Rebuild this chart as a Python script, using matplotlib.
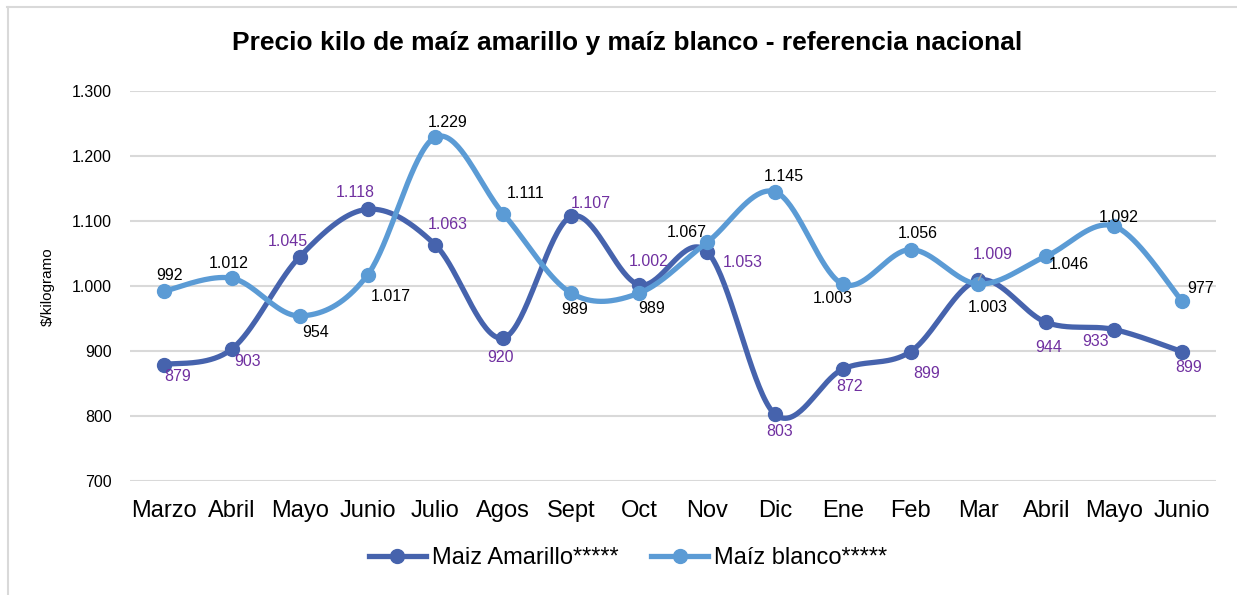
# Precio kilo de maíz amarillo y maíz blanco - referencia nacional
import numpy as np
import matplotlib.pyplot as plt
from matplotlib.lines import Line2D
from matplotlib.ticker import FuncFormatter

plt.rcParams['font.family'] = ['Liberation Sans', 'DejaVu Sans']

meses = ['Marzo', 'Abril', 'Mayo', 'Junio', 'Julio', 'Agos', 'Sept', 'Oct',
         'Nov', 'Dic', 'Ene', 'Feb', 'Mar', 'Abril', 'Mayo', 'Junio']
amarillo = [879, 903, 1045, 1118, 1063, 920, 1107, 1002,
            1053, 803, 872, 899, 1009, 944, 933, 899]
blanco = [992, 1012, 954, 1017, 1229, 1111, 989, 989,
          1067, 1145, 1003, 1056, 1003, 1046, 1092, 977]

# label offsets in pixels (dx, dy), hand placed like the Excel chart
off_amarillo = [(14, -12), (16, -12), (-12, 15), (-12, 17), (12, 21), (-3, -19),
                (20, 13), (10, 23), (36, -11), (5, -17), (7, -17), (16, -22),
                (14, 26), (2, -25), (-19, -12), (7, -16)]
off_blanco = [(6, 16), (-3, 15), (16, -17), (23, -22), (12, 15), (22, 20),
              (3, -16), (13, -15), (-20, 10), (9, 15), (-10, -14), (7, 16),
              (9, -23), (23, -8), (4, 9), (18, 12)]

C_AMA = '#4663AD'
C_BLA = '#5B9BD5'
C_LAB = '#7030A0'
GRID = '#D9D9D9'


def fmt(v):
    return f'{v:,.0f}'.replace(',', '.')


def smooth(y, n=40):
    """Catmull-Rom style bezier smoothing (similar to Excel's smoothed line)"""
    x = np.arange(len(y), dtype=float)
    y = np.asarray(y, dtype=float)
    pts = np.column_stack([x, y])
    out = []
    for i in range(len(pts) - 1):
        p0 = pts[max(i - 1, 0)]
        p1 = pts[i]
        p2 = pts[i + 1]
        p3 = pts[min(i + 2, len(pts) - 1)]
        c1 = p1 + (p2 - p0) / 6
        c2 = p2 - (p3 - p1) / 6
        t = np.linspace(0, 1, n)[:, None]
        seg = ((1 - t) ** 3) * p1 + 3 * ((1 - t) ** 2) * t * c1 \
            + 3 * (1 - t) * t ** 2 * c2 + t ** 3 * p2
        out.append(seg if i == 0 else seg[1:])
    out = np.vstack(out)
    return out[:, 0], out[:, 1]


fig = plt.figure(figsize=(12.37, 5.95), dpi=100)
ax = fig.add_axes([130 / 1237, 1 - 481 / 595, 1086 / 1237, 390 / 595])

x = np.arange(len(meses))
for vals, col, z in [(amarillo, C_AMA, 3), (blanco, C_BLA, 4)]:
    sx, sy = smooth(vals)
    ax.plot(sx, sy, color=col, lw=3.8, zorder=z, solid_capstyle='round')
    ax.plot(x, vals, 'o', color=col, ms=10, zorder=z)

for i, v in enumerate(blanco):
    ax.annotate(fmt(v), (i, v), xytext=off_blanco[i], textcoords='offset pixels',
                ha='center', va='center', fontsize=11.5, color='black', zorder=6)
for i, v in enumerate(amarillo):
    if i == 12:
        # Mar label sits off the point, with a small leader line
        ax.annotate(fmt(v), (i, v), xytext=off_amarillo[i],
                    textcoords='offset pixels', ha='center', va='center',
                    fontsize=11.5, color=C_LAB, zorder=7,
                    arrowprops=dict(arrowstyle='-', color='#A6A6A6', lw=1,
                                    shrinkA=8, shrinkB=0))
    else:
        ax.annotate(fmt(v), (i, v), xytext=off_amarillo[i],
                    textcoords='offset pixels', ha='center', va='center',
                    fontsize=11.5, color=C_LAB, zorder=7)

ax.set_xlim(-0.5, len(meses) - 0.5)
ax.set_ylim(700, 1300)
ax.set_yticks(range(700, 1301, 100))
ax.yaxis.set_major_formatter(FuncFormatter(lambda v, p: fmt(v)))
ax.set_xticks(x)
ax.set_xticklabels(meses)
ax.tick_params(axis='x', length=0, labelsize=17, pad=14)
ax.tick_params(axis='y', length=0, labelsize=11.5, pad=13)
ax.grid(axis='y', color=GRID, lw=1.5)
ax.set_axisbelow(True)
for s in ax.spines.values():
    s.set_visible(False)

fig.text(48 / 1237, 1 - 287 / 595, '$/kilogramo', rotation=90,
         ha='center', va='center', fontsize=11)
fig.text(627 / 1237, 1 - 43 / 595,
         'Precio kilo de maíz amarillo y maíz blanco - referencia nacional',
         ha='center', va='center', fontsize=19, fontweight='bold')

handles = [Line2D([], [], color=C_AMA, lw=3.8, marker='o', ms=10),
           Line2D([], [], color=C_BLA, lw=3.8, marker='o', ms=10)]
fig.legend(handles, ['Maiz Amarillo*****', 'Maíz blanco*****'],
           loc='center', bbox_to_anchor=(628 / 1237, 1 - 558 / 595), ncol=2,
           frameon=False, fontsize=17, numpoints=1, handlelength=2.4,
           handletextpad=0.25, columnspacing=1.4)

# light grey chart border (top and left visible in the crop)
fig.add_artist(Line2D([7 / 1237, 1], [1 - 7 / 595, 1 - 7 / 595],
                      color=GRID, lw=1.5))
fig.add_artist(Line2D([8 / 1237, 8 / 1237], [0, 1 - 7 / 595],
                      color=GRID, lw=1.5))

fig.savefig('out.png', dpi=100)
